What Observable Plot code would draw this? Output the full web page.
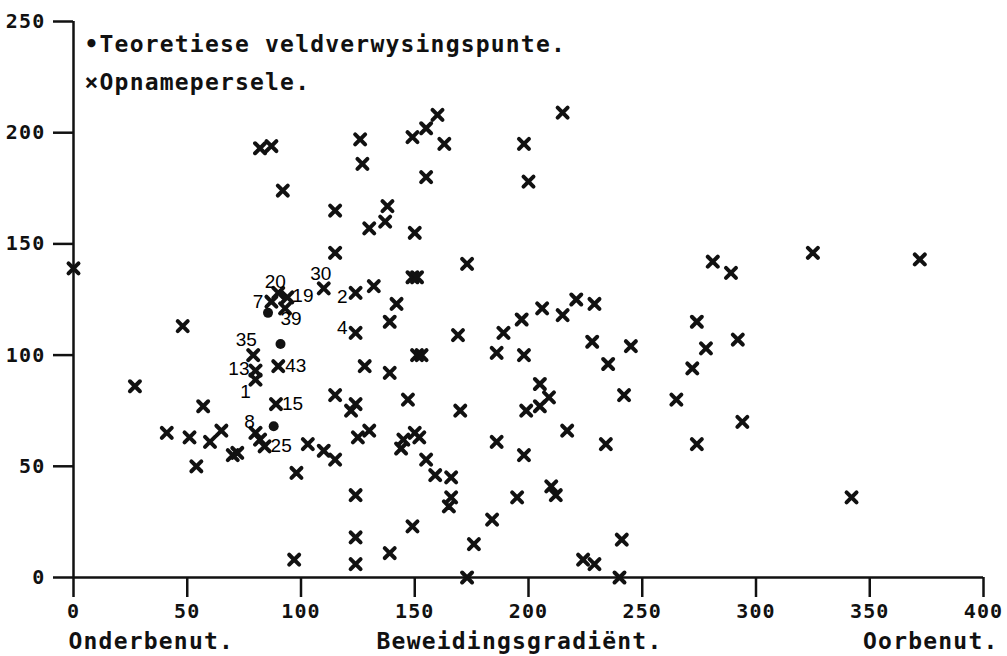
<!DOCTYPE html>
<html><head><meta charset="utf-8">
<script src="https://cdn.jsdelivr.net/npm/d3@7"></script>
<script src="https://cdn.jsdelivr.net/npm/@observablehq/plot@0.6"></script>
<style>
body{margin:0;background:#fff}
svg{font-family:"DejaVu Sans Mono";font-weight:bold}
svg text{letter-spacing:1.2px}
g[font-family="Liberation Sans"] text{letter-spacing:0}
</style></head><body><div id="chart"></div>
<script>
// Tick values
const xTicks = [0, 50, 100, 150, 200, 250, 300, 350, 400];
const yTicks = [0, 50, 100, 150, 200, 250];

// Opnamepersele (sample plots), unlabelled
const obsX = [0,27,48,41,51,54,57,60,65,70,72,82,87,92,82,98,97,103,110,115,115,115,115,122,124,124,124,124,125,126,127,128,130,130,132,137,138,139,139,139,142,144,145,147,149,149,151,149,150,150,152,151,153,155,155,155,159,160,163,165,166,166,169,170,173,173,176,184,186,186,189,195,197,198,198,198,199,200,205,205,206,209,210,212,215,215,217,221,224,228,229,229,234,235,240,241,242,245,265,272,274,274,278,281,289,292,294,325,342,372];
const obsY = [139,86,113,65,63,50,77,61,66,55,56,193,194,174,62,47,8,60,57,53,82,146,165,75,78,37,18,6,63,197,186,95,66,157,131,160,167,115,92,11,123,58,62,80,23,135,135,198,155,65,63,100,100,202,180,53,46,208,195,32,36,45,109,75,141,0,15,26,101,61,110,36,116,195,100,55,75,178,87,77,121,81,41,37,209,118,66,125,8,106,123,6,60,96,0,17,82,104,80,94,115,60,103,142,137,107,70,146,36,143];

// Numbered sample plots
const labNames = ["35","13","1","8","25","7","20","19","39","43","15","30","2","4"];
const labX = [79,80,80,80,84,87,90,94,93,90,89,110,124,124];
const labY = [100,93,89,65,59,124,128,126,121,95,78,130,128,110];

// Teoretiese veldverwysingspunte
const refX = [85.5, 91, 88];
const refY = [119, 105, 68];

// Texts
const legendTexts = ["•Teoretiese veldverwysingspunte.", "×Opnamepersele."];
const axisNotes = ["Onderbenut.", "Beweidingsgradiënt.", "Oorbenut."];

// label placement (styling only)
const labPlace = {
  "35":[-7,-15,"middle"], "13":[-6,-2,"end"], "1":[-10,12,"middle"], "8":[-6,-11,"middle"],
  "25":[6,0,"start"], "7":[-8,0,"end"], "20":[-3,-11,"middle"], "19":[5,-1,"start"],
  "39":[6,11,"middle"], "43":[7,0,"start"], "15":[6,0,"start"], "30":[-3,-14,"middle"],
  "2":[-8,4,"end"], "4":[-8,-5,"end"]
};

const obs = obsX.map((x, i) => ({x, y: obsY[i]}));
const refs = refX.map((x, i) => ({x, y: refY[i]}));
const labs = labNames.map((name, i) => ({name, x: labX[i], y: labY[i]}));

const labelMarks = labs.map(l => Plot.text([l], {
  x: "x", y: "y", text: "name",
  dx: labPlace[l.name][0], dy: labPlace[l.name][1], textAnchor: labPlace[l.name][2],
  fontFamily: "Liberation Sans", fontWeight: "normal", fontSize: 19, fill: "#000"
}));

const crossStyle = {symbol: "times", r: 4.6, stroke: "#111", strokeWidth: 4, strokeLinecap: "round"};

const chart = Plot.plot({
  width: 1007, height: 656,
  marginLeft: 73, marginRight: 24, marginTop: 21, marginBottom: 79,
  x: {domain: [0, 400], label: null},
  y: {domain: [0, 250], label: null},
  style: {background: "#fff", color: "#111"},
  marks: [
    Plot.ruleX([0], {y1: d3.min(yTicks), y2: d3.max(yTicks), stroke: "#111", strokeWidth: 2.5}),
    Plot.ruleY([0], {x1: d3.min(xTicks), x2: d3.max(xTicks), stroke: "#111", strokeWidth: 2.5}),
    Plot.axisY({ticks: yTicks, tickSize: 20, tickPadding: 8, strokeWidth: 2.5, fontSize: 20, label: null, tickFormat: d => String(d)}),
    Plot.axisX({ticks: xTicks, tickSize: 20, tickPadding: 6, strokeWidth: 2.5, fontSize: 20, label: null, tickFormat: d => String(d)}),
    Plot.dot(obs, {x: "x", y: "y", ...crossStyle}),
    Plot.dot(labs, {x: "x", y: "y", ...crossStyle}),
    Plot.dot(refs, {x: "x", y: "y", r: 5, fill: "#111", stroke: null}),
    ...labelMarks,
    Plot.text([legendTexts[0]], {frameAnchor: "top-left", dx: 11, dy: 14, textAnchor: "start", fontSize: 23, fill: "#111"}),
    Plot.text([legendTexts[1]], {frameAnchor: "top-left", dx: 11, dy: 52, textAnchor: "start", fontSize: 23, fill: "#111"}),
    Plot.text([axisNotes[0]], {frameAnchor: "bottom-left", dx: -5, dy: 71, textAnchor: "start", fontSize: 23, fill: "#111"}),
    Plot.text([axisNotes[1]], {frameAnchor: "bottom", dx: -9, dy: 71, textAnchor: "middle", fontSize: 23, fill: "#111"}),
    Plot.text([axisNotes[2]], {frameAnchor: "bottom-right", dx: 15, dy: 71, textAnchor: "end", fontSize: 23, fill: "#111"})
  ]
});
document.getElementById("chart").append(chart);
</script></body></html>
